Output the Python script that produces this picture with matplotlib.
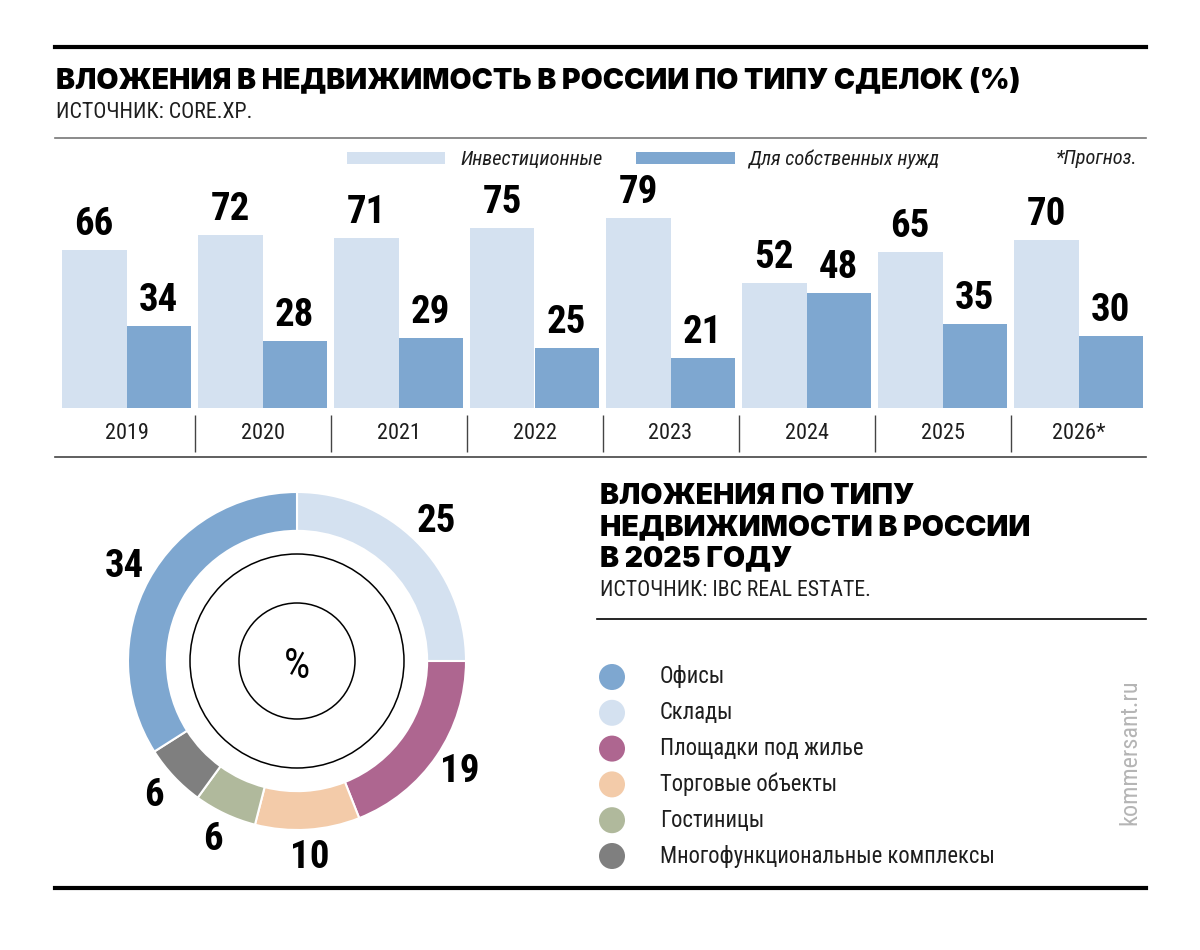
import numpy as np
import matplotlib
matplotlib.use('Agg')
import matplotlib.pyplot as plt
from matplotlib import font_manager

fonts = font_manager.fontManager.ttflist
names = {f.name for f in fonts}

# pick a narrow face if one exists, a heavy one for headings
narrow = dict(fontfamily='Roboto' if 'Roboto' in names else 'DejaVu Sans')
for cand in ['Liberation Sans Narrow', 'Roboto Condensed', 'Open Sans Condensed']:
    if cand in names:
        narrow = dict(fontfamily=cand)
        break
else:
    for fam in ['Noto Sans', 'DejaVu Sans', 'Open Sans', 'Roboto']:
        if any(f.name == fam and 'condensed' in str(f.stretch) for f in fonts):
            narrow = dict(fontfamily=fam, fontstretch='condensed')
            break
heavy = dict(fontfamily='DejaVu Sans', fontweight='bold')
for fam in ['Noto Sans', 'Inter', 'Lato', 'Open Sans', 'Roboto']:
    if any(f.name == fam and f.weight in (800, 900, 'black', 'heavy') for f in fonts):
        heavy = dict(fontfamily=fam, fontweight='black')
        break

# data
years = ['2019', '2020', '2021', '2022', '2023', '2024', '2025', '2026*']
invest = [66, 72, 71, 75, 79, 52, 65, 70]
own_use = [34, 28, 29, 25, 21, 48, 35, 30]

types = ['Офисы', 'Склады', 'Площадки под жилье', 'Торговые объекты',
         'Гостиницы', 'Многофункциональные комплексы']
shares = [34, 25, 19, 10, 6, 6]
type_colors = ['#7ea7d0', '#d4e1f0', '#ae6690', '#f3cba9', '#b0b99c', '#7f7f7f']

c_light = '#d4e1f0'
c_dark = '#7ea7d0'
c_text = '#1e1e1e'

W, H = 1200, 950
fig = plt.figure(figsize=(W/100, H/100), dpi=100)
renderer = fig.canvas.get_renderer()

# background axes in pixel coordinates
bg = fig.add_axes([0, 0, 1, 1])
bg.set_xlim(0, W)
bg.set_ylim(H, 0)
bg.axis('off')

def px_axes(left, top, width, height):
    return fig.add_axes([left/W, 1-(top+height)/H, width/W, height/H])

def fit(t, width):
    # scale font so the text spans the wanted pixel width
    t.set_fontsize(t.get_fontsize() * width / t.get_window_extent(renderer).width)
    return t

# rules
bg.plot([55, 1146], [47, 47], color='black', lw=3)
bg.plot([55, 1146], [138, 138], color='#777777', lw=1.2)
bg.plot([55, 1146], [457, 457], color='#444444', lw=1.2)
bg.plot([597, 1146], [619, 619], color='black', lw=1.2)
bg.plot([55, 1146], [888, 888], color='black', lw=3)

# titles
t = bg.text(56, 81, 'ВЛОЖЕНИЯ В НЕДВИЖИМОСТЬ В РОССИИ ПО ТИПУ СДЕЛОК (%)',
            fontsize=22, va='center', ha='left', **heavy)
fit(t, 962)
head_size = t.get_fontsize()
t = bg.text(56, 113, 'ИСТОЧНИК: CORE.XP.', fontsize=15,
            va='center', ha='left', color=c_text, **narrow)
fit(t, 197)

# legend of bars
bg.add_patch(plt.Rectangle((347, 152), 98, 12, fc=c_light, ec='none'))
t = bg.text(460, 159, 'Инвестиционные', style='italic',
            fontsize=14, va='center', ha='left', color=c_text, **narrow)
fit(t, 143)
leg_size = t.get_fontsize()
bg.add_patch(plt.Rectangle((636, 152), 99, 12, fc=c_dark, ec='none'))
bg.text(748, 159, 'Для собственных нужд', style='italic',
        fontsize=leg_size, va='center', ha='left', color=c_text, **narrow)
bg.text(1138, 159, '*Прогноз.', style='italic',
        fontsize=leg_size, va='center', ha='right', color=c_text, **narrow)

# bar chart
ax = px_axes(58.5, 168, 1088, 240)
x = np.arange(len(years))
w = 64.5/136
b1 = ax.bar(x - w/2, invest, w, color=c_light)
b2 = ax.bar(x + w/2, own_use, w, color=c_dark)
ax.set_xlim(-0.5, len(years) - 0.5)
ax.set_ylim(0, 100)
ax.axis('off')
for b in (b1, b2):
    ax.bar_label(b, padding=5, fontsize=28, fontweight='bold', color='black', **narrow)
for i, y in enumerate(years):
    ax.text(i, -10.6, y, ha='center', va='center',
            fontsize=16, color=c_text, clip_on=False, **narrow)
ax.vlines(x[1:] - 0.5, -18.3, -2.9, color='#444444', lw=1, clip_on=False)

# donut
R = 169
half = 260
axp = px_axes(297 - half, 661 - half, 2*half, 2*half)
order = [1, 2, 3, 4, 5, 0]
wedges, texts = axp.pie([shares[i] for i in order],
                        colors=[type_colors[i] for i in order],
                        labels=[str(shares[i]) for i in order],
                        startangle=90, counterclock=False, radius=1,
                        labeldistance=1.165,
                        wedgeprops=dict(width=0.23, edgecolor='white', linewidth=1.5),
                        textprops=dict(fontsize=28, fontweight='bold', color='black', **narrow))
for t in texts:
    t.set_ha('center')
    t.set_va('center')
axp.add_patch(plt.Circle((0, 0), 107/R, fc='none', ec='black', lw=1.1))
axp.add_patch(plt.Circle((0, 0), 58/R, fc='none', ec='black', lw=1.1))
axp.text(0, -0.03, '%', ha='center', va='center', fontsize=30, **narrow)
axp.set_xlim(-half/R, half/R)
axp.set_ylim(-half/R, half/R)
axp.axis('off')

# right block titles
for k, line in enumerate(['ВЛОЖЕНИЯ ПО ТИПУ', 'НЕДВИЖИМОСТИ В РОССИИ', 'В 2025 ГОДУ']):
    bg.text(600, 497 + 31*k, line, fontsize=head_size, va='center', ha='left', **heavy)
t = bg.text(600, 591, 'ИСТОЧНИК: IBC REAL ESTATE.', fontsize=15,
            va='center', ha='left', color=c_text, **narrow)
fit(t, 272)

# legend of donut
leg = []
for k, (name, col) in enumerate(zip(types, type_colors)):
    yy = 677 + 35.8*k
    bg.add_patch(plt.Circle((612, yy), 13, fc=col, ec='none'))
    leg.append(bg.text(660, yy, name, fontsize=17, va='center',
                       ha='left', color=c_text, **narrow))
fit(leg[-1], 336)
for t in leg:
    t.set_fontsize(leg[-1].get_fontsize())

t = bg.text(1130, 752, 'kommersant.ru', rotation=90, fontsize=17.5,
            color='#b5b5b5', va='center', ha='center', **narrow)

fig.savefig('out.png', dpi=100)
